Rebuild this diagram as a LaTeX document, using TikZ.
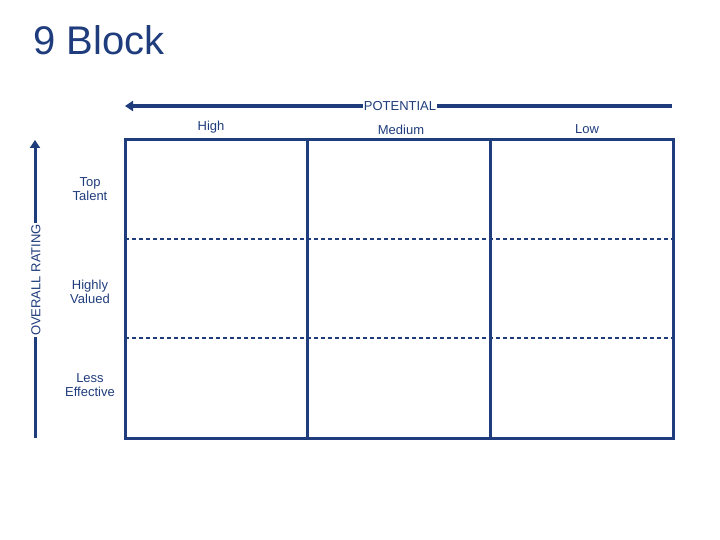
\documentclass[tikz,border=0pt]{standalone}
\usepackage{fontspec}
\setmainfont{Liberation Sans}
\usetikzlibrary{arrows.meta}
\definecolor{navy}{HTML}{1F3C7C}
\begin{document}
\begin{tikzpicture}[x=1pt,y=-1pt,
  lbl/.style={text=navy,font=\fontsize{13}{14}\selectfont,align=center,inner sep=1pt},
  axis/.style={draw=navy,line width=4pt,-{Triangle[length=8pt,width=10pt]}},
  grid/.style={draw=navy,line width=3pt},
  dgrid/.style={draw=navy,line width=1.5pt,dash pattern=on 4pt off 3pt}]
\useasboundingbox (0,0) rectangle (720,540);
\node[text=navy,font=\fontsize{40}{42}\selectfont,anchor=west,inner sep=0] (title) at (33,40) {9 Block};
\coordinate (ps) at (672,106); \coordinate (pe) at (125,106);
\draw[axis] (ps) -- (pe);
\node[lbl,fill=white] (pot) at (400,106) {POTENTIAL};
\node[lbl] (h) at (211,127) {High};
\node[lbl] (m) at (401,130) {Medium};
\node[lbl] (l) at (587,129) {Low};
\coordinate (rs) at (35,438); \coordinate (re) at (35,140);
\draw[axis,line width=3pt] (rs) -- (re);
\node[lbl,fill=white,rotate=90] (ovr) at (36,280) {OVERALL RATING};
\node[lbl] (t) at (90,189) {Top\\Talent};
\node[lbl] (hv) at (90,292) {Highly\\Valued};
\node[lbl] (le) at (90,385) {Less\\Effective};
\coordinate (a) at (125,140); \coordinate (b) at (673,438);
\draw[dgrid] (125,239) -- (673,239);
\draw[dgrid] (125,338) -- (673,338);
\draw[grid] (307,140) -- (307,438);
\draw[grid] (490,140) -- (490,438);
\draw[grid] (a) rectangle (b);
\end{tikzpicture}
\end{document}
